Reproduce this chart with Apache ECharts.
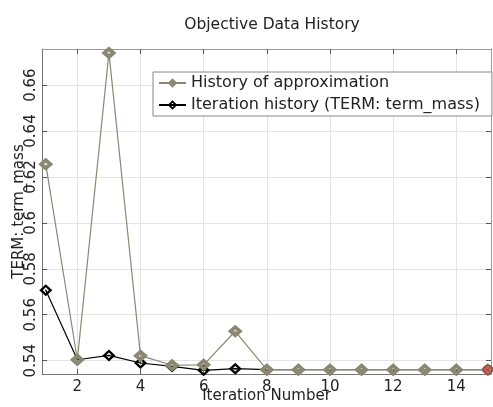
<!DOCTYPE html>
<html><head><meta charset="utf-8">
<script src="https://cdn.jsdelivr.net/npm/echarts@6/dist/echarts.min.js"></script>
<style>html,body{margin:0;padding:0;background:#fff}#c{width:493px;height:407px}</style>
</head><body><div id="c"></div>
<script>
const iterations = [1,2,3,4,5,6,7,8,9,10,11,12,13,14,15];
const approxHistory = [0.6255,0.5404,0.6740,0.5422,0.5380,0.5382,0.5528,0.5361,0.5361,0.5361,0.5361,0.5361,0.5361,0.5361,0.5361];
const iterHistory   = [0.5707,0.5404,0.5423,0.5390,0.5375,0.5358,0.5365,0.5361,0.5361,0.5361,0.5361,0.5361,0.5361,0.5361,0.5361];
const optimumPoint = [[15,0.5361]];
const xTicks = [2,4,6,8,10,12,14];
const yTicks = [0.54,0.56,0.58,0.6,0.62,0.64,0.66];
const titleText = 'Objective Data History';
const seriesNames = ['History of approximation','Iteration history (TERM: term_mass)'];

const font = 'DejaVu Sans';
const gray = '#8a8872';
const grayDiamond = 'path://M0,-6 L7,0 L0,6 L-7,0 Z M0,-1.6 L-1.6,0 L0,1.6 L1.6,0 Z';
const blackDiamond = 'path://M0,-6 L7,0 L0,6 L-7,0 Z M0,-2.8 L-3.3,0 L0,2.8 L3.3,0 Z M0,-1 L1.1,0 L0,1 L-1.1,0 Z';
const crossCircle = 'path://M0,-5 A5,5 0 1,1 0,5 A5,5 0 1,1 0,-5 Z M0,-3.6 A3.6,3.6 0 1,0 0,3.6 A3.6,3.6 0 1,0 0,-3.6 Z M-2.6,-1.8 L-1.8,-2.6 L0,-0.8 L1.8,-2.6 L2.6,-1.8 L0.8,0 L2.6,1.8 L1.8,2.6 L0,0.8 L-1.8,2.6 L-2.6,1.8 L-0.8,0 Z';
const chart = echarts.init(document.getElementById('c'));
const tickStyle = vals => ({show:true,inside:true,length:5,customValues:vals,lineStyle:{color:'#555'}});
chart.setOption({
  animation:false,
  title:{text:titleText,left:267,textAlign:'center',top:12,textStyle:{fontFamily:font,fontSize:15.5,fontWeight:'normal',color:'#222'}},
  legend:{orient:'vertical',left:153,top:72,padding:[2,12,2,5],itemGap:4,itemWidth:27,itemHeight:12,
    backgroundColor:'#fff',borderColor:'#888',borderWidth:1,borderRadius:0,
    textStyle:{fontFamily:font,fontSize:16,lineHeight:18,color:'#222'},data:seriesNames},
  grid:{left:42,top:49,right:2,bottom:33,containLabel:false,outerBoundsMode:'none'},
  xAxis:[{type:'value',min:0.88,max:15.1,position:'bottom',
    name:'Iteration Number',nameLocation:'middle',nameGap:15,nameMoveOverlap:false,
    nameTextStyle:{fontFamily:font,fontSize:15,color:'#222'},
    axisLine:{show:true,lineStyle:{color:'#777',width:1}},
    axisLabel:{customValues:xTicks,fontFamily:font,fontSize:15,color:'#222',margin:6},
    axisTick:tickStyle(xTicks),
    splitLine:{show:true,lineStyle:{color:'#e3e3e3',width:1}}},
    {type:'value',min:0.88,max:15.1,position:'top',axisLabel:{show:false},
    axisLine:{show:true,lineStyle:{color:'#999'}},splitLine:{show:false},
    axisTick:tickStyle(xTicks)}],
  yAxis:[{type:'value',min:0.5342,max:0.6757,
    name:'TERM: term_mass',nameLocation:'middle',nameGap:15,nameRotate:90,nameMoveOverlap:false,
    nameTextStyle:{fontFamily:font,fontSize:15,color:'#222'},
    axisLine:{show:true,lineStyle:{color:'#777',width:1}},
    axisLabel:{customValues:yTicks,rotate:90,fontFamily:font,fontSize:15,color:'#222',margin:3,
      formatter:v=>String(+v.toFixed(2))},
    axisTick:tickStyle(yTicks),
    splitLine:{show:true,lineStyle:{color:'#e3e3e3',width:1}}},
    {type:'value',min:0.5342,max:0.6757,position:'right',axisLabel:{show:false},
    axisLine:{show:true,lineStyle:{color:'#999'}},splitLine:{show:false},
    axisTick:tickStyle(yTicks)}],
  series:[
    {name:seriesNames[1],type:'line',data:iterations.map((x,i)=>[x,iterHistory[i]]),
      symbol:blackDiamond,symbolSize:[13,12],lineStyle:{color:'#000',width:1.2},
      itemStyle:{color:'#000'},z:2},
    {name:seriesNames[0],type:'line',data:iterations.map((x,i)=>[x,approxHistory[i]]),
      symbol:grayDiamond,symbolSize:[15,13],lineStyle:{color:gray,width:1.2},
      itemStyle:{color:gray},z:3},
    {type:'scatter',data:optimumPoint,symbol:crossCircle,symbolSize:10,
      itemStyle:{color:'#e01818'},z:4}
  ]
});
</script></body></html>
